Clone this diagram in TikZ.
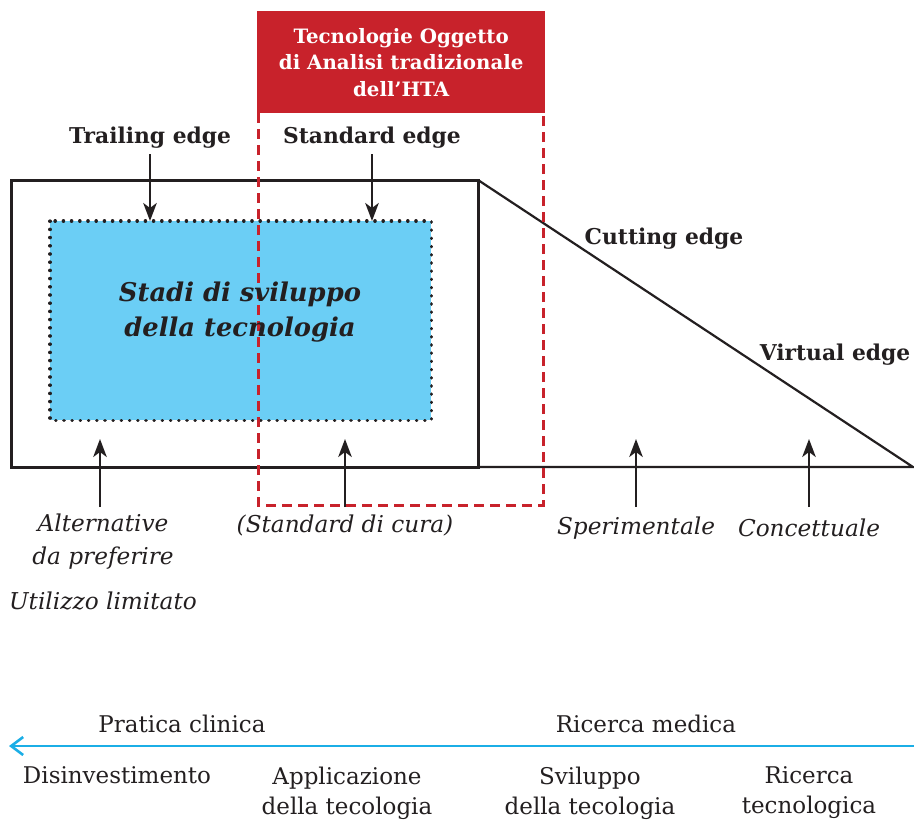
\documentclass[tikz,border=0pt]{standalone}
\usepackage{fontspec}
\setmainfont{DejaVu Serif}
\usetikzlibrary{arrows.meta}
\definecolor{htared}{HTML}{C8222B}
\definecolor{stageblue}{HTML}{6BCEF5}
\definecolor{axisblue}{HTML}{1BAEE6}
\definecolor{ink}{HTML}{231F20}
\tikzset{
  edgelabel/.style={font=\fontsize{21.8}{26}\selectfont\bfseries, text=ink, inner sep=0pt},
  stagelabel/.style={font=\fontsize{23.2}{33}\selectfont\itshape, text=ink, inner sep=0pt, align=center},
  axislabel/.style={font=\fontsize{23}{30}\selectfont, text=ink, inner sep=0pt, align=center, text depth=0.25ex},
  pointer/.style={draw=ink, line width=2.5pt, -{Stealth[length=18pt,width=13.5pt,inset=5pt]}},
  frame/.style={draw=ink, line width=3pt},
}
\begin{document}
\begin{tikzpicture}[x=1pt,y=-1pt]
\useasboundingbox (0,0) rectangle (914,820);

% stage frame and the sloping edge of the triangle
\coordinate (fTL) at (11,180);
\coordinate (fBR) at (478,467);
\coordinate (fTR) at (478,180);
\coordinate (tip) at (913,467);
\draw[frame, line join=miter] (fTL) rectangle (fBR);
\draw[draw=ink, line width=2.2pt] (fTR) -- (tip) -- (fBR);

% blue area of the development stages, with a dotted border
\node[fill=stageblue, minimum width=381pt, minimum height=199pt, inner sep=0pt, anchor=north west] (stages) at (50,221) {};
\draw[ink, line width=3.2pt, dash pattern=on 0.4pt off 7.8pt, line cap=round]
  (stages.north west) rectangle (stages.south east);

% dashed window of the traditional HTA technologies
\draw[htared, line width=3pt, dash pattern=on 10pt off 6pt] (258,113) -- (258,505) -- (543,505) -- (543,113);

% red title box
\node[fill=htared, minimum width=288pt, minimum height=102pt, inner sep=0pt, anchor=north west,
      font=\fontsize{19.8}{26.5}\selectfont\bfseries, text=white, align=center] (hta) at (257,11)
  {Tecnologie Oggetto\\di Analisi tradizionale\\dell’HTA};

% stage title
\node[font=\fontsize{25.8}{35}\selectfont\bfseries\itshape, text=ink, align=center, inner sep=0pt] (title) at (240,312)
  {Stadi di sviluppo\\della tecnologia};

% edge labels
\node[edgelabel] (trailing) at (150,138) {Trailing edge};
\node[edgelabel] (standard) at (372,138) {Standard edge};
\node[edgelabel] (cutting) at (664,239) {Cutting edge};
\node[edgelabel] (virtual) at (835,355) {Virtual edge};

% downward pointers
\coordinate (trailEnd) at (150,221);
\coordinate (stdEnd) at (372,221);
\draw[pointer] (150,154) -- (trailEnd);
\draw[pointer] (372,154) -- (stdEnd);

% stage labels under the frame
\node[stagelabel] (alt) at (103,542) {Alternative\\da preferire};
\node[stagelabel] (limited) at (103,601) {Utilizzo limitato};
\node[stagelabel] (care) at (345,525) {(Standard di cura)};
\node[stagelabel] (exp) at (636,528) {Sperimentale};
\node[stagelabel] (concept) at (809,528) {Concettuale};

% upward pointers
\coordinate (altEnd) at (100,439);
\coordinate (careEnd) at (345,439);
\coordinate (expEnd) at (636,439);
\coordinate (conceptEnd) at (809,439);
\draw[pointer] (100,507) -- (altEnd);
\draw[pointer] (345,507) -- (careEnd);
\draw[pointer] (636,507) -- (expEnd);
\draw[pointer] (809,507) -- (conceptEnd);

% research to practice axis
\coordinate (axisR) at (914,746);
\coordinate (axisL) at (9,746);
\draw[axisblue, line width=2.6pt, -{Straight Barb[length=12pt,width=18pt,line width=2.6pt]}] (axisR) -- (axisL);
\node[axislabel] (clinic) at (182,724) {Pratica clinica};
\node[axislabel] (research) at (646,724) {Ricerca medica};

\node[axislabel] (disinv) at (117,776) {Disinvestimento};
\node[axislabel] (apply) at (347,791) {Applicazione\\della tecologia};
\node[axislabel] (develop) at (590,791) {Sviluppo\\della tecologia};
\node[axislabel] (tech) at (809,791) {Ricerca\\tecnologica};
\end{tikzpicture}
\end{document}
